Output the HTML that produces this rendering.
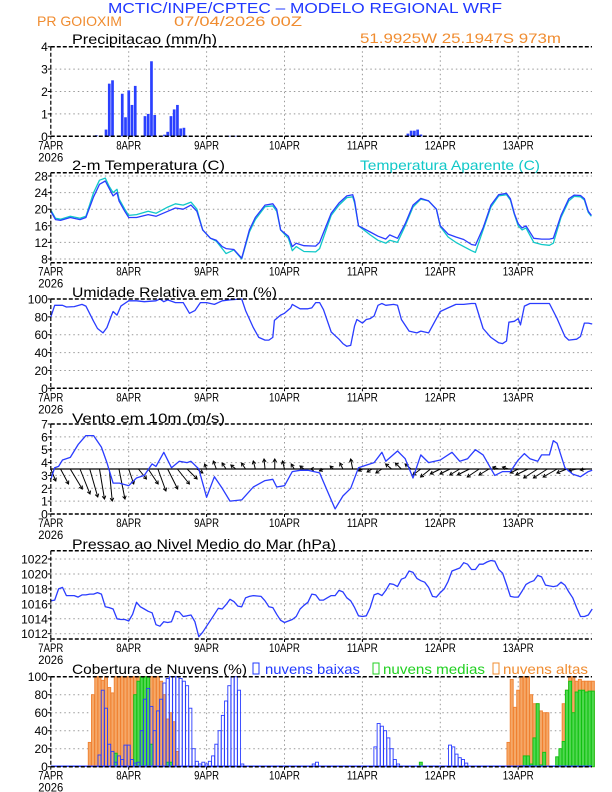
<!DOCTYPE html>
<html><head><meta charset="utf-8">
<style>
html,body{margin:0;padding:0;background:#fff;}
svg{display:block;font-family:"Liberation Sans",sans-serif;}
</style></head>
<body>
<svg id="chart" width="612" height="792" viewBox="0 0 612 792" xmlns="http://www.w3.org/2000/svg">
<text x="108" y="13" font-size="15" fill="#2038ff" textLength="394" lengthAdjust="spacingAndGlyphs">MCTIC/INPE/CPTEC – MODELO REGIONAL WRF</text>
<text x="37" y="26" font-size="14" fill="#f08c30" textLength="85" lengthAdjust="spacingAndGlyphs">PR GOIOXIM</text>
<text x="174" y="26" font-size="14" fill="#f08c30" textLength="128" lengthAdjust="spacingAndGlyphs">07/04/2026 00Z</text>
<text x="72" y="44" font-size="14" fill="#000" textLength="145" lengthAdjust="spacingAndGlyphs">Precipitacao (mm/h)</text>
<text x="360" y="43" font-size="14" fill="#f08c30" textLength="201" lengthAdjust="spacingAndGlyphs">51.9925W 25.1947S 973m</text>
<text x="72" y="170" font-size="14" fill="#000" textLength="153" lengthAdjust="spacingAndGlyphs">2-m Temperatura (C)</text>
<text x="360" y="170" font-size="14" fill="#10c8c8" textLength="180" lengthAdjust="spacingAndGlyphs">Temperatura Aparente (C)</text>
<text x="72" y="297" font-size="14" fill="#000" textLength="205" lengthAdjust="spacingAndGlyphs">Umidade Relativa em 2m (%)</text>
<text x="72" y="423" font-size="14" fill="#000" textLength="153" lengthAdjust="spacingAndGlyphs">Vento em 10m (m/s)</text>
<text x="72" y="549" font-size="14" fill="#000" textLength="264" lengthAdjust="spacingAndGlyphs">Pressao ao Nivel Medio do Mar (hPa)</text>
<text x="72" y="674" font-size="14" fill="#000" textLength="175" lengthAdjust="spacingAndGlyphs">Cobertura de Nuvens (%)</text>
<rect x="253" y="663" width="6" height="11" fill="none" stroke="#2038ff" stroke-width="1"/>
<text x="265" y="674" font-size="14" fill="#2038ff" textLength="95" lengthAdjust="spacingAndGlyphs">nuvens baixas</text>
<rect x="373" y="663" width="6" height="11" fill="none" stroke="#20d020" stroke-width="1"/>
<text x="383" y="674" font-size="14" fill="#20d020" textLength="102" lengthAdjust="spacingAndGlyphs">nuvens medias</text>
<rect x="493" y="663" width="6" height="11" fill="none" stroke="#f08c30" stroke-width="1"/>
<text x="503" y="674" font-size="14" fill="#f08c30" textLength="85" lengthAdjust="spacingAndGlyphs">nuvens altas</text>
</svg>
<script>
// ---------- data ----------
const dayLabels = ["7APR","8APR","9APR","10APR","11APR","12APR","13APR"];
const precipHours = [14,17,18,19,22,23,24,25,26,29,30,31,32,35,36,37,38,39,40,41,42,55,57,110,111,112,113,114];
const precipVals = [0.05,0.3,2.35,2.5,1.9,0.85,2.05,1.4,2.25,0.9,1.0,3.35,0.95,0.07,0.2,0.9,1.2,1.4,0.35,0.38,0.02,0.02,0.02,0.12,0.25,0.25,0.3,0.08];

const tempDays = [0,.06,.125,.25,.375,.45,.55,.625,.7,.75,.8,.85,.875,.95,1.0,1.1,1.25,1.35,1.5,1.6,1.7,1.8,1.875,1.95,2.05,2.125,2.2,2.25,2.35,2.45,2.55,2.625,2.75,2.85,2.9,2.95,3.05,3.1,3.15,3.25,3.4,3.45,3.6,3.7,3.8,3.875,3.9,3.95,4.1,4.2,4.3,4.35,4.45,4.55,4.65,4.75,4.85,4.95,5.0,5.1,5.2,5.3,5.4,5.45,5.55,5.65,5.75,5.85,5.9,5.95,6.0,6.05,6.1,6.2,6.3,6.4,6.45,6.55,6.65,6.72,6.8,6.85,6.9,6.94];
const tempVals = [19.5,17.5,17.3,18,17.5,18,23,26,26.8,25,23.2,24,22,19.5,18,18,18.7,18.3,19.5,20.3,20,21,19.5,15,13,12.5,11,10.5,10.3,8.2,15,18,21,21.3,20,15,13.5,11,11.8,11.2,11.1,12,19,21.5,23.2,23.5,22,16,14.5,13.5,12.8,13.8,13,16.5,21,22.6,22,20,16,14,13.3,12.7,11.5,11.3,15.5,21,23.5,23.8,22.5,19,16.5,15.5,16,13,12.8,12.8,13,18.5,22.5,23.4,23.3,22.5,19.5,18.5];
const apparentVals = [19.8,17.8,17.6,18.3,17.8,18.3,24,27,27.5,25.5,24,24.8,22.5,20,18.5,18.7,19.5,19,20.5,21.3,21,21.7,20,15,13,12.3,10.5,9.3,10.2,8.0,14.5,17.5,20.6,20.8,19.5,15,13,10,11,9.8,9.7,10.5,18.5,21,22.8,23,21.5,16,13.8,12.5,11.8,12.5,12,16,20.5,22.4,22,20,15.8,13.3,12,11,10,9.6,15,20.5,23.2,23.5,22.2,18.8,16,15,15.5,12,11.5,11.3,11.8,18,22,23.1,23,22.2,19.2,18.3];

const rhDays = [0,.05,.15,.2,.3,.4,.45,.55,.6,.67,.72,.78,.8,.85,.9,1.0,1.1,1.2,1.35,1.4,1.45,1.5,1.6,1.7,1.78,1.85,1.92,2.0,2.1,2.2,2.3,2.45,2.5,2.6,2.67,2.75,2.8,2.85,2.87,2.95,3.0,3.08,3.1,3.2,3.3,3.35,3.4,3.45,3.5,3.6,3.7,3.75,3.8,3.85,3.9,3.93,4.0,4.05,4.1,4.15,4.2,4.25,4.3,4.4,4.45,4.5,4.6,4.7,4.75,4.85,4.95,5.0,5.1,5.2,5.3,5.4,5.45,5.55,5.65,5.75,5.8,5.85,5.88,5.95,6.0,6.03,6.08,6.15,6.3,6.4,6.5,6.6,6.65,6.75,6.8,6.85,6.9,6.95];
const rhVals = [80,93,93,91,91.5,94,92,75,67,62,68,82,86,82,92,98,98,97,98,100,97,99,96,96,84,87,96,96,94,98,99,100,87,68,57,54,54,57,76,82,84,90,94,89,89,90,96,96,88,63,55,50,47,48,70,77,73,77,78,81,93,95,93,94,93,77,64,62,64,62,78,86,90,94,94,95,95,67,57,51,50,53,74,75,78,71,92,95,95,95,78,58,54,55,58,73,73,72];

const windDays = [0,.05,.1,.15,.25,.35,.45,.55,.65,.72,.8,.88,1.0,1.1,1.2,1.3,1.35,1.45,1.55,1.65,1.75,1.8,1.9,2.0,2.1,2.2,2.3,2.45,2.6,2.75,2.85,2.9,3.0,3.1,3.2,3.3,3.45,3.55,3.65,3.75,3.85,3.95,4.05,4.15,4.25,4.3,4.45,4.55,4.65,4.75,4.85,5.0,5.15,5.25,5.35,5.45,5.55,5.7,5.8,5.9,6.0,6.08,6.15,6.25,6.3,6.4,6.45,6.5,6.6,6.7,6.8,6.9,6.95];
const windSpeed = [2.7,3.6,3.7,4.2,4.4,5.4,6.1,6.1,5.2,4,2.4,2.4,2.2,2.8,3.0,3.9,3.7,4.8,3.6,4.1,4.0,4.1,3.5,1.3,2.9,2.0,1.0,1.1,2.1,2.6,2.7,2.1,2.2,3.3,3.4,3.4,3.2,1.8,0.4,1.4,2.0,3.6,3.8,4.0,4.8,4.1,4.9,4.3,2.8,4.6,4.0,4.2,4.8,4.1,4.3,5.0,4.6,3.0,3.3,3.3,4.2,4.7,4.3,4.1,4.6,4.6,5.7,5.5,3.6,3.1,2.9,3.3,3.4];
const windStepHours = 3;
const windU = [1,1.6,2.4,2,1.6,1,0.6,1.2, 1,1.6,2,1.6,2,2.4,2,1.2, -0.4,-0.6,-0.8,-1,-0.8,-0.4,-0.2,0, -0.4,-0.6,-0.8,-0.6,-0.8,-0.6,-0.6,-0.4, -0.8,-1,-1.2,-1.2,-1.2,-1.2,-1.6,-2, -2,-2,-2,-2.4,-2.4,-2,-1.2,-1.2, -1.6,-2.4,-2.8,-2.8,-2.8,-2,-1.6,-1.2];
const windV = [-2.4,-3,-4,-5,-5.6,-6,-6.4,-6, -3,-2,-3,-4.4,-4,-3,-2,-0.8, 1,1.6,1.2,0.8,1.2,1.6,2,2, 1.6,1,0.6,0,-0.4,0.6,1.2,2, -0.4,-0.6,-0.8,1,1.2,1,-1.2,-1.6, -1,-1,-1.2,-1.2,-1.6,-1.2,0.4,0.4, -0.8,-1.2,-1.8,-1.8,-1.6,-0.8,-0.4,-0.2];

const presStepDays = 0.05;
const presVals = [1016.4,1016.5,1018.0,1018.2,1017.1,1017.1,1017.1,1016.9,1017.2,1017.2,1017.3,1017.3,1017.5,1017.3,1015.6,1015.5,1015.3,1014.0,1013.9,1013.9,
1013.7,1014.6,1016.2,1015.6,1015.3,1015.0,1014.8,1013.2,1013.0,1013.6,1013.5,1013.6,1015.0,1014.9,1014.3,1014.4,1014.5,1013.6,1011.6,1012.2,
1013.0,1013.8,1014.6,1015.4,1015.3,1015.9,1016.6,1016.3,1015.7,1015.6,1016.8,1017.0,1017.1,1017.05,1017.0,1016.4,1015.6,1015.5,1014.6,1013.8,
1013.5,1013.7,1013.9,1014.3,1015.3,1015.8,1016.2,1017.3,1017.2,1016.5,1016.5,1016.8,1017.1,1017.1,1017.8,1017.6,1016.8,1016.4,1015.5,1014.4,
1014.3,1014.4,1015.5,1017.2,1017.4,1017.1,1017.8,1018.7,1018.6,1018.3,1019.3,1019.5,1020.4,1020.2,1019.4,1019.1,1018.9,1018.2,1017.0,1016.9,
1017.5,1018.0,1019.0,1020.4,1020.6,1020.8,1021.5,1021.3,1020.6,1020.6,1021.3,1021.3,1021.6,1021.8,1021.7,1020.6,1020.1,1018.6,1017.0,1016.9,
1016.9,1017.7,1018.6,1018.9,1019.1,1019.8,1019.6,1018.5,1018.4,1018.3,1018.4,1018.9,1018.5,1017.6,1016.8,1015.5,1014.3,1014.3,1014.5,1015.3];

// cloud segments: start hour, hourly values
const cloudHighStarts = [12,141,157];
const cloudHighVals = [[27,80,100,100,96,100,88,82,100,100,100,100,100,100,100,100,100,100,100,100,100,100,95,80,53,60,50,17],[27,97,66,85,100,100,100,80,70,70,62,60,60],[3,70,85,100,100,95,97,95,95,95,95]];
const cloudMidStarts = [20,26,36,114,146,156];
const cloudMidVals = [[15],[80,95,100,100,100,25],[5,5],[5],[12,12,3,32,70,2,16],[11,20,28,85,95,60,83,85,85,83,84,84]];
const cloudLowStarts = [15,81,100,123,145];
const cloudLowVals = [[13,85,65,25,17,5,12,8,24,24,8,4,5,40,75,87,67,40,62,75,93,98,100,100,100,98,95,90,65,20,6,3,5,3,6,12,25,40,57,73,90,100,100,85,3],[3,5],[22,48,45,40,32,20,8,3],[24,22,14,10,8,4],[1,1,1,1]];

// ---------- drawing ----------
const svg = document.getElementById('chart');
const NS = 'http://www.w3.org/2000/svg';
const X0 = 50.8, DAYW = 77.9, XR = 592;
const X = d => X0 + d * DAYW;
const XH = h => X(h / 24);
function mk(tag, attrs, parent) {
  const el = document.createElementNS(NS, tag);
  for (const k in attrs) el.setAttribute(k, attrs[k]);
  (parent || svg).appendChild(el);
  return el;
}
function lin(v0, y0, v1, y1) { return v => y0 + (v - v0) * (y1 - y0) / (v1 - v0); }

const panels = [
  {name:'precip', top:46.7, bot:136.3, y:lin(0,136.3,4,46.7), ticks:[0,1,2,3,4]},
  {name:'temp', top:172.7, bot:262.7, y:lin(8,259,28,176), ticks:[8,12,16,20,24,28]},
  {name:'rh', top:299, bot:388.3, y:lin(0,388.3,100,299), ticks:[0,20,40,60,80,100]},
  {name:'wind', top:424, bot:514, y:lin(0,514,7,424), ticks:[0,1,2,3,4,5,6,7]},
  {name:'pressure', top:550.7, bot:639, y:lin(1012,633.7,1022,559), ticks:[1012,1014,1016,1018,1020,1022]},
  {name:'cloud', top:676.7, bot:766.7, y:lin(0,766.7,100,676.7), ticks:[0,20,40,60,80,100]}
];

panels.forEach(p => {
  const g = mk('g', {});
  
  
  for (let d = 1; d < 7; d++) {
    const gl = mk('line', {x1:X(d), x2:X(d), y1:p.top, y2:p.bot, stroke:'#999', 'stroke-width':1, 'stroke-dasharray':'1.5,3'}, g);
    
    
  }
  p.ticks.forEach(t => {
    const yy = p.y(t);
    if (yy > p.top + 2 && yy < p.bot - 2) {
      const hl = mk('line', {x1:X0, x2:XR, y1:yy, y2:yy, stroke:'#999', 'stroke-width':1, 'stroke-dasharray':'1.5,3'}, g);
      
      
    }
    const tk = mk('line', {x1:X0-3, x2:X0, y1:yy, y2:yy, stroke:'#000', 'stroke-width':1}, g);
    
    
    const tl = mk('text', {x:X0-3, y:yy+4.5, 'font-size':12, 'text-anchor':'end', fill:'#000'}, g);
    
    
    tl.textContent = t;
  });
  dayLabels.forEach((lab, d) => {
    const tk = mk('line', {x1:X(d), x2:X(d), y1:p.bot, y2:p.bot+3, stroke:'#000', 'stroke-width':1}, g);
    
    
    const tl = mk('text', {x:X(d), y:p.bot+13, 'font-size':12, 'text-anchor':'middle', fill:'#000', textLength: lab.length > 4 ? 31 : 25, lengthAdjust:'spacingAndGlyphs'}, g);
    
    
    tl.textContent = lab;
  });
  const yr = mk('text', {x:X(0), y:p.bot+25, 'font-size':12, 'text-anchor':'middle', fill:'#000', textLength:25, lengthAdjust:'spacingAndGlyphs'}, g);
  
  
  yr.textContent = '2026';
  p.g = g;
});

function polyline(pts, color, name) {
  const el = mk('polyline', {points: pts.map(q => q[0].toFixed(1)+','+q[1].toFixed(1)).join(' '), fill:'none', stroke:color, 'stroke-width':1.3, 'stroke-linejoin':'round'});
  
  
  return el;
}

// precip
const pP = panels[0];
precipHours.forEach((h, i) => {
  const y = pP.y(precipVals[i]);
  const b = mk('rect', {x:XH(h)-1.3, y:y, width:2.7, height:pP.bot - y, fill:'#2a40ff'});
  
  
});

// temperature
const pT = panels[1];
polyline(tempDays.map((d,i)=>[X(d), pT.y(apparentVals[i])]), '#10c8c8', 'apparent-temperature-line');
polyline(tempDays.map((d,i)=>[X(d), pT.y(tempVals[i])]), '#2a3cff', 'temperature-line');

// RH
const pR = panels[2];
polyline(rhDays.map((d,i)=>[X(d), pR.y(rhVals[i])]), '#2a3cff', 'relative-humidity-line');

// wind
const pW = panels[3];
const baseY = pW.y(3.5);
const SC = 5;
windU.forEach((u, i) => {
  const x1 = XH(i * windStepHours), y1 = baseY;
  const x2 = x1 + u * SC, y2 = y1 - windV[i] * SC;
  const g = mk('g', {stroke:'#000', 'stroke-width':1, fill:'none'});
  
  
  mk('line', {x1:x1, y1:y1, x2:x2, y2:y2}, g);
  const len = Math.hypot(x2-x1, y2-y1);
  if (len > 0.5) {
    const ux = (x2-x1)/len, uy = (y2-y1)/len, hs = 3;
    const ax = x2 - ux*hs, ay = y2 - uy*hs;
    mk('polyline', {points:`${ax - uy*1.8},${ay + ux*1.8} ${x2},${y2} ${ax + uy*1.8},${ay - ux*1.8}`}, g);
  }
});
const wb = mk('line', {x1:X(windDays[0]), x2:XR, y1:baseY, y2:baseY, stroke:'#000', 'stroke-width':1.2});


polyline(windDays.map((d,i)=>[X(d), pW.y(windSpeed[i])]), '#2a3cff', 'wind-speed-line');

// pressure
const pS = panels[4];
polyline(presVals.map((v,i)=>[X(i*presStepDays), pS.y(v)]), '#2a3cff', 'pressure-line');

// clouds
const pC = panels[5];
function cloudBars(starts, vals, fill, stroke, name) {
  starts.forEach((s, k) => {
    vals[k].forEach((v, j) => {
      if (v <= 0) return;
      const y = pC.y(v);
      const b = mk('rect', {x:XH(s+j)-1.5, y:y, width:3, height:pC.bot - y, fill:fill, stroke:stroke, 'stroke-width':0.9});
      
      
    });
  });
}
cloudBars(cloudHighStarts, cloudHighVals, '#f5a868', '#f08030', 'high-cloud-bar');
cloudBars(cloudMidStarts, cloudMidVals, '#50d850', '#10c010', 'mid-cloud-bar');
cloudBars(cloudLowStarts, cloudLowVals, 'none', '#2a3cff', 'low-cloud-bar');
const cb = mk('line', {x1:X0, x2:XR, y1:pC.bot-0.5, y2:pC.bot-0.5, stroke:'#2a3cff', 'stroke-width':1.5});



// frames
panels.forEach(p => {
  const f = mk('g', {stroke:'#000', fill:'none'});
  
  
  mk('line', {x1:X0, x2:XR, y1:p.top, y2:p.top, 'stroke-width':1.5, 'stroke-dasharray':'4,2'}, f);
  mk('line', {x1:X0, x2:XR, y1:p.bot, y2:p.bot, 'stroke-width':1.5, 'stroke-dasharray':'4,2'}, f);
  mk('line', {x1:X0, x2:X0, y1:p.top, y2:p.bot, 'stroke-width':1.2, 'stroke-dasharray':'4,2'}, f);
  mk('line', {x1:XR, x2:XR, y1:p.top, y2:p.bot, 'stroke-width':2});
});
</script>
</body></html>
